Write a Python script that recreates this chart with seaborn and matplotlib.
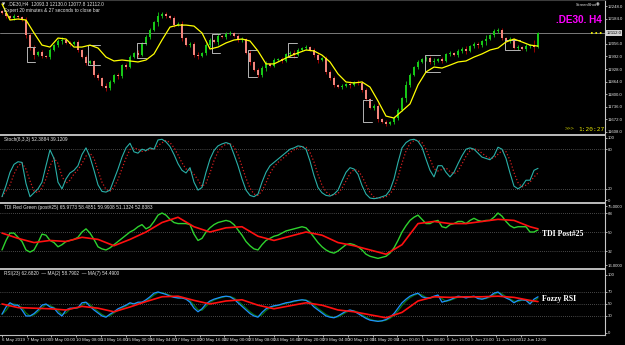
import numpy as np
import pandas as pd
import matplotlib
matplotlib.use("Agg")
import matplotlib.pyplot as plt
import seaborn as sns

# ---------------- data ----------------
first_open = 12225
closes = [12214, 12198, 12188, 12198, 12193, 12178, 12102, 12035, 11999, 12015,
          11994, 11990, 12025, 12050, 12071, 12076, 12061, 12056, 12066, 12025,
          11989, 11960, 11968, 11897, 11880, 11841, 11831,
          11862, 11897, 11890, 11948, 11940, 11989, 12010, 12002, 12061, 12091, 12127, 12168, 12198, 12209,
          12198, 12188, 12152, 12160, 12086, 12050, 12058, 11999, 11994,
          12010, 12050, 12076, 12068, 12096, 12090, 12107, 12112,
          12096, 12076, 12080, 12010, 11964, 11923, 11897,
          11933, 11954, 11945, 11974, 11979, 11970, 12005, 12010, 12000, 12025, 12035, 12040,
          12025, 11999, 11974, 11985, 11913, 11882, 11847, 11836, 11841, 11852, 11845, 11862, 11857,
          11821, 11775, 11729, 11740, 11673, 11658, 11648,
          11658, 11678, 11719, 11780, 11847, 11897, 11938,
          11964, 11979, 11984, 11964, 11969, 11979, 11970, 12005, 12010, 11998, 12020, 12030, 12022,
          12045, 12056, 12048, 12071, 12081, 12102, 12122, 12127,
          12086, 12071, 12080, 12035, 12040, 12030, 12045, 12050, 12040, 12112]
wicks = [6, 10, 4, 12, 8, 5, 14, 9, 18, 7,
         10, 6, 12, 5, 8, 15, 6, 9, 4, 11,
         7, 13, 6, 8, 10, 5, 16, 9, 7, 12,
         6, 10, 8, 5, 14, 7, 9, 11, 6, 20,
         8, 12, 5, 9, 7, 13, 6, 10, 8, 15,
         5, 9, 12, 7, 18, 6, 10, 8, 5, 11,
         9, 7, 13, 6, 10, 8, 14, 5, 9, 7,
         12, 6, 10, 16, 8, 5, 11, 7, 9, 13,
         6, 10, 8, 12, 5, 9, 7, 15, 6, 10,
         8, 11, 5, 9, 14, 7, 10, 6, 12, 8,
         5, 18, 9, 7, 11, 6, 10, 8, 13, 5,
         9, 7, 12, 6, 10, 8, 15, 5, 9, 11,
         7, 20, 6, 10, 8, 12, 5, 9, 7, 11,
         6, 10, 8, 25, 4]
# moving average (yellow), one value every second bar
yellow_ma = [12260, 12178, 12183, 12178, 12112, 12050, 12040, 12086, 12081, 12040,
             12040, 12050, 12035, 11989, 11969, 11974, 11969, 11964, 11974, 12005,
             12076, 12142, 12152, 12152, 12147, 12112, 12030, 12040, 12061, 12076,
             12081, 12071, 12020, 11954, 11954, 11974, 11994, 12010, 12025, 12020,
             11999, 11964, 11903, 11862, 11857, 11862, 11836, 11765, 11688, 11678,
             11714, 11750, 11847, 11913, 11938, 11933, 11948, 11964, 11969, 11989,
             12005, 12025, 12035, 12066, 12081, 12066, 12050, 12045]
stoch_main = [8, 25, 45, 57, 61, 60, 28, 8, 14, 20,
              30, 55, 79, 66, 30, 20, 35, 44, 48, 55,
              72, 82, 68, 48, 26, 16, 15, 18, 34, 50,
              68, 82, 89, 76, 74, 80, 78, 82, 80, 94,
              95, 91, 84, 72, 58, 48, 44, 52, 30, 18,
              22, 45, 65, 78, 85, 88, 90, 88, 72, 55,
              35, 18, 10, 8, 12, 30, 45, 55, 60, 65,
              70, 75, 80, 82, 85, 84, 80, 62, 40, 22,
              14, 10, 9, 12, 18, 32, 45, 52, 50, 42,
              25, 12, 6, 5, 6, 8, 10, 18, 35, 60,
              82, 90, 94, 95, 92, 83, 65, 48, 38, 55,
              55, 45, 38, 45, 58, 70, 80, 82, 80, 74,
              68, 66, 64, 70, 83, 80, 66, 44, 24, 20,
              24, 33, 33, 48, 51]
tdi_green = [33, 42, 49, 49, 45, 41, 33, 31, 33, 40,
             48, 47, 42, 40, 36, 38, 41, 42, 43, 45,
             50, 53, 49, 43, 36, 34, 33, 35, 38, 41,
             44, 47, 50, 52, 55, 57, 53, 55, 60, 66,
             68, 66, 62, 59, 58, 58, 58, 57, 48, 42,
             44, 50, 54, 57, 59, 60, 61, 60, 57, 52,
             47, 41, 37, 34, 33, 38, 42, 44, 46, 47,
             49, 51, 52, 53, 54, 55, 54, 50, 45, 40,
             36, 33, 31, 30, 32, 35, 38, 39, 38, 36,
             33, 29, 27, 26, 25, 26, 27, 30, 35, 42,
             50, 56, 61, 64, 66, 62, 58, 58, 60, 61,
             55, 54, 57, 58, 60, 60, 58, 61, 63, 61,
             60, 61, 61, 64, 68, 65, 60, 56, 54, 55,
             55, 55, 50, 50, 52]
# smooth red lines, one value every fourth bar (plus the last bar)
tdi_red = [49, 44, 40, 42, 41, 45, 43, 37, 43, 50,
           59, 64, 55, 50, 54, 55, 46, 42, 46, 50,
           47, 40, 37, 33, 29, 38, 58, 60, 58, 58,
           60, 62, 61, 55, 53]
rsi_line = [33, 45, 52, 48, 48, 40, 30, 30, 34, 40,
            48, 50, 45, 43, 35, 30, 40, 43, 43, 44,
            52, 53, 46, 40, 35, 30, 28, 33, 37, 42,
            45, 48, 52, 50, 53, 53, 57, 62, 68, 70,
            68, 66, 63, 61, 60, 60, 58, 53, 43, 37,
            42, 50, 55, 58, 60, 62, 63, 62, 58, 52,
            46, 40, 34, 30, 28, 36, 42, 45, 47, 48,
            50, 52, 53, 55, 56, 57, 56, 52, 45, 40,
            35, 30, 28, 27, 30, 34, 38, 40, 38, 34,
            30, 26, 23, 22, 21, 22, 24, 28, 34, 43,
            52, 58, 63, 66, 68, 62, 60, 60, 63, 65,
            53, 55, 57, 60, 63, 62, 60, 62, 63, 59,
            58, 60, 63, 68, 70, 64, 60, 57, 52, 56,
            57, 56, 50, 58, 62]
rsi_ma7 = [50, 44, 43, 42, 40, 46, 43, 37, 45, 54,
           62, 63, 56, 50, 55, 57, 48, 42, 47, 52,
           48, 40, 37, 32, 27, 36, 55, 62, 61, 62,
           62, 63, 61, 56, 54]
# range brackets drawn on the price panel (bar positions and prices)
box_start = [6.25, 21.5, 33.75, 52.5, 61.5, 71.5, 90.25, 105.75, 125.75]
box_end = [8.25, 24.5, 36.0, 54.5, 63.75, 73.75, 92.5, 109.5, 129.5]
box_top = [12040, 12050, 12061, 12107, 12025, 12061, 11770, 11999, 12076]
box_bottom = [11964, 11948, 11984, 12010, 11887, 11989, 11658, 11913, 12025]

current_price = 12112
price_ticks = [12248, 12184, 12056, 11992, 11928, 11864, 11800, 11736, 11672, 11608]
time_labels = ["6 May 2019", "7 May 16:00", "9 May 00:00", "10 May 08:00", "13 May 16:00",
               "15 May 00:00", "16 May 04:00", "17 May 12:00", "20 May 16:00", "22 May 00:00",
               "23 May 08:00", "24 May 16:00", "27 May 20:00", "29 May 04:00", "30 May 12:00",
               "31 May 20:00", "4 Jun 00:00", "5 Jun 08:00", "6 Jun 16:00", "9 Jun 23:00",
               "11 Jun 04:00", "12 Jun 12:00"]

# ---------------- style ----------------
sns.set_theme(style="dark", rc={"axes.facecolor": "black", "figure.facecolor": "black",
                                "axes.grid": False, "savefig.facecolor": "black"})
SMALL_FAMILY = ["Liberation Sans Narrow", "Liberation Sans", "DejaVu Sans"]
plt.rcParams["font.family"] = SMALL_FAMILY
FS = 3.4
FS_AX = 3.1

n = min(len(closes), len(wicks))
c = np.array(closes[:n], dtype=float)
o = np.array([first_open] + closes[:n - 1], dtype=float)
w = np.array(wicks[:n], dtype=float)
idx = np.arange(n)
hi = np.maximum(o, c) + w
lo = np.minimum(o, c) - w
up = c >= o

yellow_idx = np.arange(0, n, 2)[:len(yellow_ma)]
red_idx = np.array(list(range(0, n - 1, 4)) + [n - 1])

W, H = 625, 345
fig = plt.figure(figsize=(W / 100, H / 100), dpi=100)
RIGHT = 605
XMAX = (RIGHT - 2) / 4.0


def rect(x0, y0, x1, y1):
    return [x0 / W, 1 - y1 / H, (x1 - x0) / W, (y1 - y0) / H]


ax_m = fig.add_axes(rect(0, 0, RIGHT, 134))
ax_s = fig.add_axes(rect(0, 135, RIGHT, 202))
ax_t = fig.add_axes(rect(0, 203, RIGHT, 268))
ax_r = fig.add_axes(rect(0, 269, RIGHT, 335))

TXT = "#e6e6e6"
for ax in (ax_m, ax_s, ax_t, ax_r):
    ax.set_facecolor("black")
    ax.set_xlim(-0.5, XMAX)
    for side in ("left", "bottom", "top"):
        ax.spines[side].set_visible(False)
    ax.spines["right"].set_visible(True)
    ax.spines["right"].set_color("#c8c8c8")
    ax.spines["right"].set_linewidth(0.8)
    ax.yaxis.tick_right()
    ax.tick_params(axis="y", colors=TXT, labelsize=FS_AX, length=1.2, width=0.5, pad=0.6,
                   direction="out", right=True, left=False)
    ax.tick_params(axis="x", bottom=False, labelbottom=False)

for ax in (ax_s, ax_t, ax_r):
    ax.spines["top"].set_visible(True)
    ax.spines["top"].set_color("#bdbdbd")
    ax.spines["top"].set_linewidth(1.4)
ax_r.spines["bottom"].set_visible(True)
ax_r.spines["bottom"].set_color("#bdbdbd")
ax_r.spines["bottom"].set_linewidth(0.8)
ax_m.spines["top"].set_visible(True)
ax_m.spines["top"].set_color("#3c3c3c")
ax_m.spines["top"].set_linewidth(1.5)

# ---------------- main price panel ----------------
ax_m.set_ylim(12280 - 5.1 * 134, 12280)
ax_m.axhline(current_price, color="#7a7a7a", lw=0.7, zorder=1)
bull, bear_body, bear_wick = "#17c817", "#f3857c", "#b30000"
ax_m.vlines(idx, lo, hi, colors=np.where(up, bull, bear_wick), linewidth=0.6, zorder=2)
ax_m.bar(idx, np.maximum(np.abs(c - o), 2.0), bottom=np.minimum(o, c), width=0.72,
         color=np.where(up, bull, bear_body), linewidth=0, zorder=3)
for s, e, t, b in zip(box_start, box_end, box_top, box_bottom):
    ax_m.plot([e, s, s, e], [t, t, b, b], color="#b4b4b4", lw=0.7, zorder=4)
sns.lineplot(x=yellow_idx, y=yellow_ma, ax=ax_m, color="#ffff00", linewidth=0.9, zorder=5)
ax_m.plot([147.3, 149.9], [current_price, current_price], color="#ffff00", ls=":", lw=1.2)
ax_m.set_yticks(price_ticks)
ax_m.set_yticklabels([f"{v:.1f}" for v in price_ticks])
ax_m.annotate(f"{current_price:.1f}", xy=(1.0, current_price),
              xycoords=("axes fraction", "data"), xytext=(1.0, 0), textcoords="offset points",
              fontsize=FS_AX, color="black", va="center", ha="left", annotation_clip=False,
              bbox=dict(boxstyle="square,pad=0.2", fc="#d2d2d2", ec="none"), zorder=10)

# ---------------- stochastic ----------------
stoch = pd.Series(stoch_main[:n], dtype=float)
stoch_sig = stoch.rolling(3, min_periods=1).mean()
ax_s.set_ylim(0, 101.5)
for lv in (80, 20):
    ax_s.axhline(lv, color="#8c8c8c", ls=(0, (1, 2)), lw=0.5)
sns.lineplot(x=idx, y=stoch_sig.values, ax=ax_s, color="#d21e1e", linewidth=0.9,
             linestyle=":")
sns.lineplot(x=idx, y=stoch.values, ax=ax_s, color="#2ab0a8", linewidth=0.8)
ax_s.set_yticks([97, 80, 20, 3])
ax_s.set_yticklabels(["100", "80", "20", "0"])
ax_s.text(0.006, 0.965, "Stoch(8,3,3) 52.3884 39.1209", transform=ax_s.transAxes,
          fontsize=FS, color=TXT, va="top", ha="left")

# ---------------- TDI ----------------
ax_t.set_ylim(15.9, 77.5)
for lv in (68, 50, 32):
    ax_t.axhline(lv, color="#8c8c8c", ls=(0, (1, 2)), lw=0.5)
sns.lineplot(x=idx, y=tdi_green[:n], ax=ax_t, color="#2ed22e", linewidth=1.0)
sns.lineplot(x=red_idx, y=tdi_red, ax=ax_t, color="#ff1010", linewidth=1.2)
ax_t.set_yticks([74.5, 68, 50, 32, 18.5])
ax_t.set_yticklabels(["75.0000", "68", "50", "32", "16.0000"])
ax_t.text(0.006, 0.965, "TDI Red Green (post#25) 65.9773 58.4851 59.9908 51.1324 52.8383",
          transform=ax_t.transAxes, fontsize=FS, color=TXT, va="top", ha="left")
ax_t.text((542 - 2) / 4.0, 48, "TDI Post#25", fontsize=5.6, color="white",
          fontweight="bold", family="Liberation Serif", va="center", ha="left")

# ---------------- RSI ----------------
rsi = pd.Series(rsi_line[:n], dtype=float)
rsi_ma2 = rsi.rolling(2, min_periods=1).mean()
ax_r.set_ylim(-1.7, 108.3)
for lv in (70, 50, 30):
    ax_r.axhline(lv, color="#8c8c8c", ls=(0, (1, 2)), lw=0.5)
sns.lineplot(x=idx, y=rsi_ma2.values, ax=ax_r, color="#0b6e0b", linewidth=0.9)
sns.lineplot(x=idx, y=rsi.values, ax=ax_r, color="#1e90ff", linewidth=0.9)
sns.lineplot(x=red_idx, y=rsi_ma7, ax=ax_r, color="#ff1010", linewidth=1.2)
ax_r.set_yticks([99, 70, 50, 30, 2])
ax_r.set_yticklabels(["100", "70", "50", "30", "0"])
ax_r.text(0.006, 0.965, "RSI(23) 62.6820  \u2014 MA(2) 58.7902  \u2014 MA(7) 54.4900",
          transform=ax_r.transAxes, fontsize=FS, color=TXT, va="top", ha="left")
ax_r.text((542 - 2) / 4.0, 59, "Fozzy RSI", fontsize=5.6, color="white",
          fontweight="bold", family="Liberation Serif", va="center", ha="left")

tick_pos = np.arange(len(time_labels)) * 6.175
ax_r.set_xticks(tick_pos)
ax_r.set_xticklabels(time_labels, ha="left")
ax_r.tick_params(axis="x", bottom=True, labelbottom=True, colors=TXT, labelsize=FS - 0.2,
                 length=1.5, width=0.5, pad=0.6, direction="out")
ax_r.set_xlim(-0.5, XMAX)
for ax in (ax_m, ax_s, ax_t, ax_r):
    ax.set_xlabel("")
    ax.set_ylabel("")

# ---------------- header / overlay texts ----------------
fig.text(1.5 / W, 1 - 4 / H, "\u25bc", fontsize=3.0, color=TXT, va="center", ha="left",
         family=["DejaVu Sans"])
fig.text(8 / W, 1 - 4 / H, ".DE30,H4  12093.3 12130.0 12077.8 12112.0", fontsize=FS,
         color=TXT, va="center", ha="left")
fig.text(4 / W, 1 - 10.5 / H, "Expert 20 minutes & 27 seconds to close bar", fontsize=FS,
         color=TXT, va="center", ha="left")
fig.text(576 / W, 1 - 4.5 / H, "ScreenShot", fontsize=2.9, color=TXT, va="center", ha="left")
fig.text(596 / W, 1 - 4.5 / H, "\u25c9", fontsize=3.0, color=TXT, va="center", ha="left",
         family=["DejaVu Sans"])
fig.text(602 / W, 1 - 20 / H, ".DE30. H4", fontsize=7.2, color="#ff00ff", fontweight="bold",
         family="Liberation Sans", va="center", ha="right")
fig.text(565 / W, 1 - 129 / H, ">>>", fontsize=4.0, color="#b4b400", va="center", ha="left",
         family="DejaVu Sans Mono")
fig.text(578 / W, 1 - 129 / H, "1:20:27", fontsize=4.4, color="#e6e600", va="center",
         ha="left", family="DejaVu Sans Mono")

fig.savefig("out.png", dpi=100, facecolor="black")
